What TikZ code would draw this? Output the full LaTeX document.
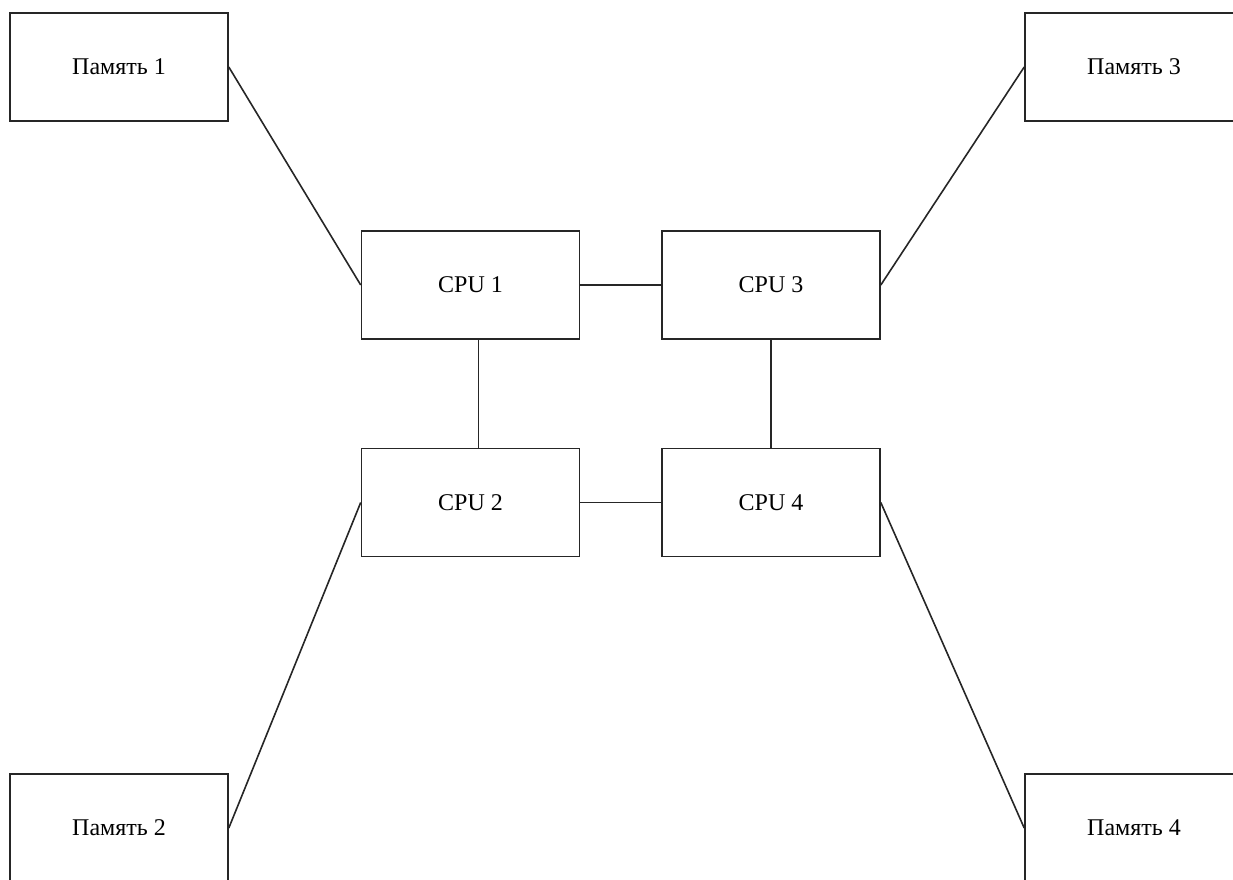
\documentclass[tikz,border=0pt]{standalone}
\usepackage{fontspec}
\setmainfont{Liberation Serif}
\begin{document}
\begin{tikzpicture}[x=1pt,y=-1pt,
  box/.style={draw=black!85, line width=1.6pt, minimum width=218pt, minimum height=108pt, inner sep=0pt, font=\fontsize{24}{28}\selectfont},
  link/.style={draw=black!85, line width=1.6pt}]
\useasboundingbox (0,0) rectangle (1233,879);
\clip (0,0) rectangle (1233,879);
\node[box] (m1) at (119,67) {Память 1};
\node[box] (m3) at (1134,67) {Память 3};
\node[box] (m2) at (119,828) {Память 2};
\node[box] (m4) at (1134,828) {Память 4};
\node[box] (c1) at (470.5,285) {CPU 1};
\node[box] (c3) at (771,285) {CPU 3};
\node[box] (c2) at (470.5,502.5) {CPU 2};
\node[box] (c4) at (771,502.5) {CPU 4};
\draw[link] (m1.east) -- (c1.west);
\draw[link] (m3.west) -- (c3.east);
\draw[link] (m2.east) -- (c2.west);
\draw[link] (m4.west) -- (c4.east);
\draw[link] (c1.east) -- (c3.west);
\draw[link] (c2.east) -- (c4.west);
\draw[link] ([xshift=8pt]c1.south) -- ([xshift=8pt]c2.north);
\draw[link] (c3.south) -- (c4.north);
\end{tikzpicture}
\end{document}
